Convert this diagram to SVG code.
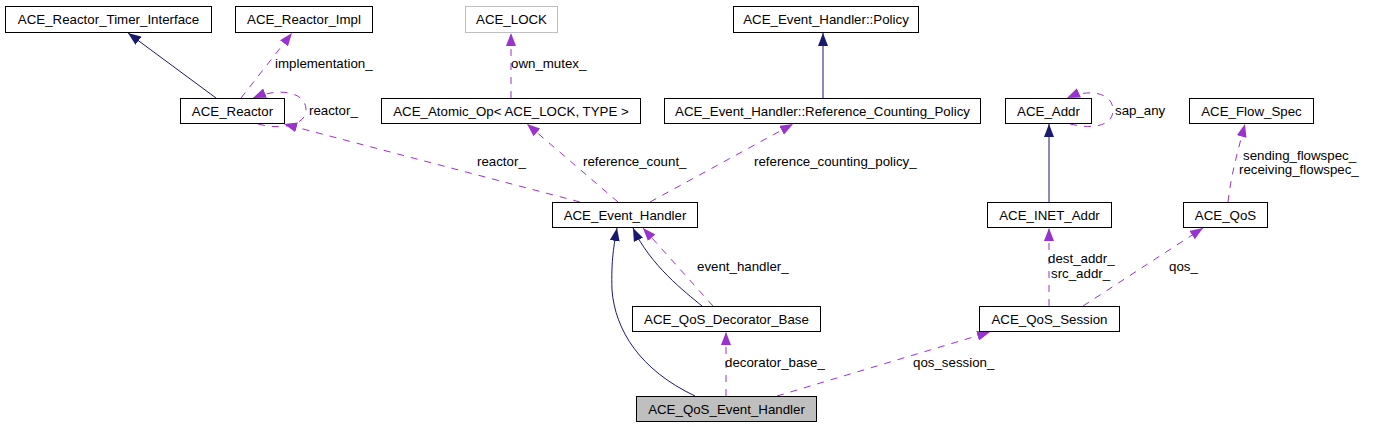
<svg xmlns="http://www.w3.org/2000/svg" width="1377" height="427" viewBox="0 0 1377 427">
<style>
text{font-family:"Liberation Sans",Arial,sans-serif;font-size:13.3px;fill:#000}
.n rect{fill:#fff;stroke:#000;stroke-width:1}
.n text{text-anchor:middle}
.g rect{stroke:#bfbfbf}
.cur rect{fill:#bfbfbf}
.inh{fill:none;stroke:#191970;stroke-width:1;marker-end:url(#an)}
.use{fill:none;stroke:#9a32cd;stroke-width:1;stroke-dasharray:7,7;marker-end:url(#ap)}
</style>
<defs>
<marker id="an" viewBox="0 0 13 10" refX="13" refY="5" markerWidth="13" markerHeight="10" markerUnits="userSpaceOnUse" orient="auto"><path d="M0,0 L13,5 L0,10 z" fill="#191970"/></marker>
<marker id="ap" viewBox="0 0 13 10" refX="13" refY="5" markerWidth="13" markerHeight="10" markerUnits="userSpaceOnUse" orient="auto"><path d="M0,0 L13,5 L0,10 z" fill="#9a32cd"/></marker>
</defs>
<rect width="1377" height="427" fill="#fff"/>
<g id="connectors">
<path class="inh" d="M216,98 L128,33"/>
<path class="use" d="M241,98 L292,33"/>
<path class="use" d="M258,124 C280,130 306,126 306,110 C306,92 280,87 253,98"/>
<path class="use" d="M511,98 L511,33"/>
<path class="inh" d="M823,98 L823,33"/>
<path class="use" d="M580,202 L284,124"/>
<path class="use" d="M618,202 L527,124"/>
<path class="use" d="M650,202 L793,124"/>
<path class="inh" d="M702,306 C685,292 650,265 633,228"/>
<path class="use" d="M713,306 L643,228"/>
<path class="inh" d="M695,396 C640,370 615,330 612,290 C611,260 614,245 617,228"/>
<path class="use" d="M726,396 L726,332"/>
<path class="use" d="M777,396 L990,332"/>
<path class="use" d="M1049,306 L1049,228"/>
<path class="use" d="M1083,306 L1203,228"/>
<path class="use" d="M1228,202 C1231,175 1238,150 1245,124"/>
<path class="inh" d="M1049,202 L1049,124"/>
<path class="use" d="M1070,124 C1095,130 1113,125 1113,110 C1113,93 1090,88 1067,98"/>
<text x="275" y="68">implementation_</text>
<text x="309" y="115">reactor_</text>
<text x="511" y="68">own_mutex_</text>
<text x="477" y="166">reactor_</text>
<text x="583" y="166">reference_count_</text>
<text x="754" y="166">reference_counting_policy_</text>
<text x="697" y="271">event_handler_</text>
<text x="725" y="367">decorator_base_</text>
<text x="913" y="367">qos_session_</text>
<text x="1048" y="263">dest_addr_</text>
<text x="1051" y="278">src_addr_</text>
<text x="1169" y="271">qos_</text>
<text x="1243" y="160">sending_flowspec_</text>
<text x="1239" y="174">receiving_flowspec_</text>
<text x="1115" y="115">sap_any</text>
</g>
<g id="ACE_Reactor_Timer_Interface" class="n"><rect x="5.5" y="6.5" width="206" height="26"/><text x="108.5" y="24">ACE_Reactor_Timer_Interface</text></g>
<g id="ACE_Reactor_Impl" class="n"><rect x="235.5" y="6.5" width="137" height="26"/><text x="304" y="24">ACE_Reactor_Impl</text></g>
<g id="ACE_LOCK" class="n g"><rect x="465.5" y="6.5" width="92" height="26"/><text x="511.5" y="24">ACE_LOCK</text></g>
<g id="ACE_Event_Handler_Policy" class="n"><rect x="733.5" y="6.5" width="185" height="26"/><text x="826" y="24">ACE_Event_Handler::Policy</text></g>
<g id="ACE_Reactor" class="n"><rect x="180.5" y="98.5" width="104" height="25"/><text x="232.5" y="115.5">ACE_Reactor</text></g>
<g id="ACE_Atomic_Op" class="n"><rect x="381.5" y="98.5" width="259" height="25"/><text x="511" y="115.5">ACE_Atomic_Op&lt; ACE_LOCK, TYPE &gt;</text></g>
<g id="ACE_Event_Handler_Reference_Counting_Policy" class="n"><rect x="664.5" y="98.5" width="316" height="25"/><text x="822.5" y="115.5">ACE_Event_Handler::Reference_Counting_Policy</text></g>
<g id="ACE_Addr" class="n"><rect x="1005.5" y="98.5" width="86" height="25"/><text x="1048.5" y="115.5">ACE_Addr</text></g>
<g id="ACE_Flow_Spec" class="n"><rect x="1189.5" y="98.5" width="124" height="25"/><text x="1251.5" y="115.5">ACE_Flow_Spec</text></g>
<g id="ACE_Event_Handler" class="n"><rect x="552.5" y="202.5" width="145" height="25"/><text x="625" y="219.5">ACE_Event_Handler</text></g>
<g id="ACE_INET_Addr" class="n"><rect x="987.5" y="202.5" width="124" height="25"/><text x="1049.5" y="219.5">ACE_INET_Addr</text></g>
<g id="ACE_QoS" class="n"><rect x="1183.5" y="202.5" width="84" height="25"/><text x="1225.5" y="219.5">ACE_QoS</text></g>
<g id="ACE_QoS_Decorator_Base" class="n"><rect x="632.5" y="306.5" width="188" height="25"/><text x="726.5" y="323.5">ACE_QoS_Decorator_Base</text></g>
<g id="ACE_QoS_Session" class="n"><rect x="979.5" y="306.5" width="140" height="25"/><text x="1049.5" y="323.5">ACE_QoS_Session</text></g>
<g id="ACE_QoS_Event_Handler" class="n cur"><rect x="636.5" y="396.5" width="180" height="25"/><text x="726.5" y="413.5">ACE_QoS_Event_Handler</text></g>
</svg>
